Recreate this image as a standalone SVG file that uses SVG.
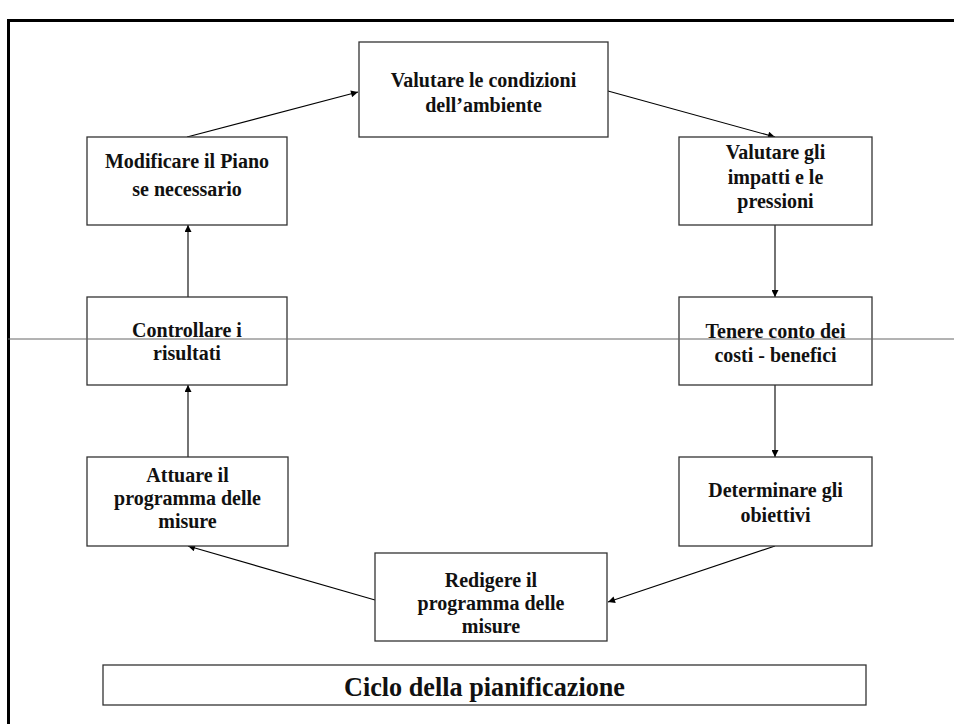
<svg xmlns="http://www.w3.org/2000/svg" width="954" height="724" viewBox="0 0 954 724">
<style>
.box{fill:#fff;stroke:#333;stroke-width:1.3}
.t{font-family:'Liberation Serif','DejaVu Serif',serif;font-weight:bold;font-size:20px;fill:#111;text-anchor:middle}
.c{fill:none;stroke:#000;stroke-width:1.1;marker-end:url(#ah)}
</style>
<defs>
<marker id="ah" viewBox="0 0 10 10" refX="10" refY="5" markerWidth="9" markerHeight="7" markerUnits="userSpaceOnUse" orient="auto">
<path d="M0,0 L10,5 L0,10 z" fill="#000"/>
</marker>
</defs>
<rect width="954" height="724" fill="#fff"/>
<g id="frame">
<path d="M8.5,724 V20.5 H954" fill="none" stroke="#000" stroke-width="3"/>
</g>
<g id="connectors">
<line class="c" x1="187" y1="137" x2="358" y2="92"/>
<line class="c" x1="608" y1="91" x2="775" y2="137"/>
<line class="c" x1="775" y1="225" x2="775" y2="297"/>
<line class="c" x1="775" y1="385" x2="775" y2="457"/>
<line class="c" x1="775" y1="546" x2="608" y2="602"/>
<line class="c" x1="375" y1="600" x2="188" y2="546"/>
<line class="c" x1="188" y1="457" x2="188" y2="385"/>
<line class="c" x1="188" y1="297" x2="188" y2="225"/>
</g>
<g id="n1" font-family="Liberation Serif, DejaVu Serif, serif"><rect class="box" x="359" y="42" width="249" height="95"/>
<text class="t" x="483.5" y="87">Valutare le condizioni</text><text class="t" x="483.5" y="112">dell’ambiente</text></g>
<g id="n2"><rect class="box" x="679" y="137" width="193" height="88"/>
<text class="t" x="775.5" y="159">Valutare gli</text><text class="t" x="775.5" y="184">impatti e le</text><text class="t" x="775.5" y="208">pressioni</text></g>
<g id="n3"><rect class="box" x="679" y="297" width="193" height="88"/>
<text class="t" x="775.5" y="338">Tenere conto dei</text><text class="t" x="775.5" y="362">costi - benefici</text></g>
<g id="n4"><rect class="box" x="679" y="457" width="193" height="89"/>
<text class="t" x="775.5" y="497">Determinare gli</text><text class="t" x="775.5" y="522">obiettivi</text></g>
<g id="n5"><rect class="box" x="375" y="553" width="232" height="88"/>
<text class="t" x="491" y="587">Redigere il</text><text class="t" x="491" y="610">programma delle</text><text class="t" x="491" y="633">misure</text></g>
<g id="n6"><rect class="box" x="87" y="457" width="201" height="89"/>
<text class="t" x="187.5" y="482">Attuare il</text><text class="t" x="187.5" y="505">programma delle</text><text class="t" x="187.5" y="528">misure</text></g>
<g id="n7"><rect class="box" x="87" y="297" width="200" height="88"/>
<text class="t" x="187" y="337">Controllare i</text><text class="t" x="187" y="360">risultati</text></g>
<g id="n8"><rect class="box" x="87" y="137" width="200" height="88"/>
<text class="t" x="187" y="168">Modificare il Piano</text><text class="t" x="187" y="196">se necessario</text></g>
<g id="hline"><line x1="8" y1="339" x2="954" y2="339" stroke="#666" stroke-width="1"/></g>
<g id="title"><rect class="box" x="103" y="665" width="763" height="40"/>
<text class="t" x="484.5" y="696" style="font-size:28px" textLength="281" lengthAdjust="spacingAndGlyphs">Ciclo della pianificazione</text></g>
</svg>
